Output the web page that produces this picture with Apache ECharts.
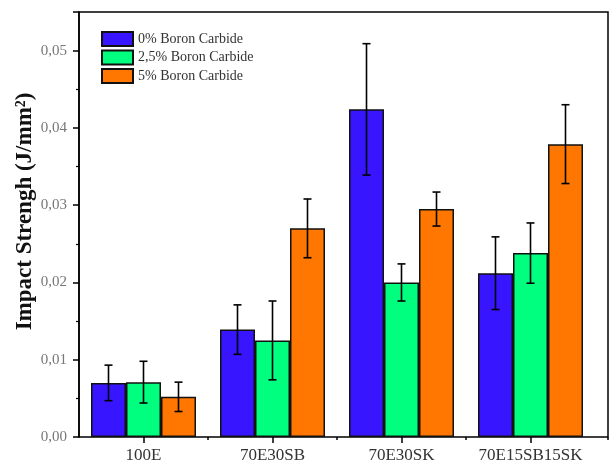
<!DOCTYPE html>
<html><head><meta charset="utf-8">
<script src="https://cdn.jsdelivr.net/npm/echarts@6/dist/echarts.min.js"></script>
<style>html,body{margin:0;padding:0;background:#fff}#c{width:615px;height:467px}</style>
</head><body><div id="c"></div>
<script>
const categories = ['100E', '70E30SB', '70E30SK', '70E15SB15SK'];
const seriesNames = ['0% Boron Carbide', '2,5% Boron Carbide', '5% Boron Carbide'];
const mean0 = [0.0070, 0.0139, 0.0424, 0.0212];
const err0  = [0.0023, 0.0032, 0.0085, 0.0047];
const mean1 = [0.0071, 0.0125, 0.0200, 0.0238];
const err1  = [0.0027, 0.0051, 0.0024, 0.0039];
const mean2 = [0.0052, 0.0270, 0.0295, 0.0379];
const err2  = [0.0019, 0.0038, 0.0022, 0.0051];
const yTitle = 'Impact Strengh (J/mm²)';

const FONT = '"Liberation Serif", "DejaVu Serif", serif';
const BAR_W = 35;
const colors = ['#3716FF', '#00FF7F', '#FF7700'];
const means = [mean0, mean1, mean2];
const errs = [err0, err1, err2];

function errSeries(idx) {
  return {
    type: 'custom', xAxisIndex: 0, yAxisIndex: 0, z: 10, silent: true,
    data: means[idx].map((m, i) => [i, m, errs[idx][i]]),
    encode: { x: 0, y: 1 },
    renderItem(params, api) {
      const i = api.value(0), m = api.value(1), e = api.value(2);
      const hi = api.coord([i, m + e]), lo = api.coord([i, m - e]);
      const x = hi[0] + (idx - 1) * BAR_W;
      const cap = 4;
      const style = { stroke: '#000', lineWidth: 1.6 };
      return { type: 'group', children: [
        { type: 'line', shape: { x1: x, y1: hi[1], x2: x, y2: lo[1] }, style },
        { type: 'line', shape: { x1: x - cap, y1: hi[1], x2: x + cap, y2: hi[1] }, style },
        { type: 'line', shape: { x1: x - cap, y1: lo[1], x2: x + cap, y2: lo[1] }, style }
      ]};
    }
  };
}

const chart = echarts.init(document.getElementById('c'));
chart.setOption({
  animation: false,
  backgroundColor: '#fff',
  grid: [
    { left: 79, top: 12, width: 516, height: 425 },
    { left: 79, top: 12, width: 529, height: 425, show: true, borderColor: '#000', borderWidth: 1.5, backgroundColor: 'transparent' }
  ],
  legend: {
    data: seriesNames, orient: 'vertical', left: 101, top: 31, padding: 0,
    icon: 'rect', itemWidth: 31, itemHeight: 14, itemGap: 2.5,
    textStyle: { fontFamily: FONT, fontSize: 14, color: '#333', lineHeight: 14 }
  },
  xAxis: [
    { type: 'category', gridIndex: 0, data: categories,
      axisLine: { show: false },
      axisTick: { show: true, alignWithLabel: true, length: 6, lineStyle: { color: '#000', width: 1.5 } },
      axisLabel: { interval: 0, fontFamily: FONT, fontSize: 17, color: '#333', margin: 10 },
      splitLine: { show: false } },
    { type: 'value', gridIndex: 1, min: 0, max: 4.1,
      axisLine: { show: false },
      axisTick: { show: true, customValues: [1, 2, 3, 4.1], length: 3, lineStyle: { color: '#000', width: 1.5 } },
      axisLabel: { show: false }, splitLine: { show: false } }
  ],
  yAxis: [
    { type: 'value', gridIndex: 0, min: 0, max: 0.055, interval: 0.01,
      axisLine: { show: true, lineStyle: { color: '#000', width: 1.5 } },
      axisTick: { show: true, length: 6, lineStyle: { color: '#000', width: 1.5 } },
      minorTick: { show: true, splitNumber: 2, length: 3, lineStyle: { color: '#000', width: 1.2 } },
      splitLine: { show: false },
      axisLabel: { fontFamily: FONT, fontSize: 15, color: '#777', margin: 12,
        formatter: v => Math.abs(v * 100 - Math.round(v * 100)) < 1e-6 ? v.toFixed(2).replace('.', ',') : '' },
      name: yTitle, nameLocation: 'middle', nameGap: 42, nameMoveOverlap: false,
      nameTextStyle: { fontFamily: FONT, fontWeight: 'bold', fontSize: 23, color: '#111', padding: [0, 0, 0, 26] } },
    { type: 'value', gridIndex: 1, show: false, min: 0, max: 1 }
  ],
  series: [
    ...seriesNames.map((n, k) => ({
      name: n, type: 'bar', xAxisIndex: 0, yAxisIndex: 0,
      data: means[k], barWidth: BAR_W, barGap: '0%',
      itemStyle: { color: colors[k], borderColor: '#111', borderWidth: 1.5 }
    })),
    errSeries(0), errSeries(1), errSeries(2)
  ]
});
</script></body></html>
